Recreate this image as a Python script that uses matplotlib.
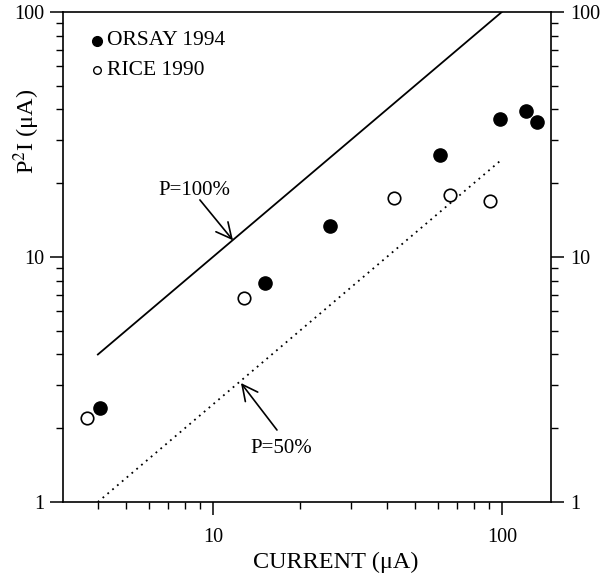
import matplotlib
matplotlib.use("Agg")
import matplotlib.pyplot as plt
import numpy as np

plt.rcParams['font.family'] = ['Liberation Serif', 'DejaVu Serif']
plt.rcParams['mathtext.fontset'] = 'stix'

# Data
orsay_x = [4.06, 15.1, 25.4, 61.0, 98.4, 121.7, 132.5]
orsay_y = [2.43, 7.83, 13.4, 26.1, 36.5, 39.4, 35.6]
rice_x = [3.68, 12.8, 42.3, 66.1, 90.8]
rice_y = [2.2, 6.8, 17.4, 17.9, 16.9]
line_x = [4, 100]
p100_y = [4, 100]
p50_y = [1, 25]
x_ticks = [10, 100]
x_ticklabels = ['10', '100']
y_ticks = [1, 10, 100]
y_ticklabels = ['1', '10', '100']

fig = plt.figure(figsize=(6.07, 5.77), dpi=100)
ax = fig.add_axes([63/607, 1-502/577, (551-63)/607, (502-12)/577])
ax.set_xscale('log')
ax.set_yscale('log')
ax.set_xlim(3.03, 148)
ax.set_ylim(1, 100)

ax.plot(line_x, p100_y, color='black', lw=1.3)
ax.plot(line_x, p50_y, color='black', lw=1.3, ls=(0, (1, 2.5)))
ax.plot(orsay_x, orsay_y, 'o', color='black', ms=9.5, ls='none')
ax.plot(rice_x, rice_y, 'o', mfc='white', mec='black', mew=1.2, ms=9, ls='none')

# legend (manual)
ax.plot([3.97], [76.2], 'o', color='black', ms=7, clip_on=False)
ax.plot([3.97], [57.9], 'o', mfc='white', mec='black', mew=1, ms=5.5, clip_on=False)
ax.text(4.3, 76.2, 'ORSAY 1994', fontsize=15.5, va='center', ha='left')
ax.text(4.3, 57.9, 'RICE 1990', fontsize=15.5, va='center', ha='left')

# annotations
ax.text(8.6, 18.6, 'P=100%', fontsize=15, ha='center', va='center')
ax.annotate('', xy=(11.74, 11.7), xytext=(9.02, 17.1),
            arrowprops=dict(arrowstyle='->', color='black', lw=1.2,
                            shrinkA=0, shrinkB=0, mutation_scale=28))
ax.text(17.3, 1.66, 'P=50%', fontsize=15, ha='center', va='center')
ax.annotate('', xy=(12.51, 3.06), xytext=(16.67, 1.967),
            arrowprops=dict(arrowstyle='->', color='black', lw=1.2,
                            shrinkA=0, shrinkB=0, mutation_scale=28))

ax.set_xticks(x_ticks)
ax.set_xticklabels(x_ticklabels)
ax.set_yticks(y_ticks)
ax.set_yticklabels(y_ticklabels)
ax.xaxis.set_minor_locator(matplotlib.ticker.LogLocator(base=10, subs=np.arange(2, 10)))
ax.yaxis.set_minor_locator(matplotlib.ticker.LogLocator(base=10, subs=np.arange(2, 10)))
ax.xaxis.set_minor_formatter(matplotlib.ticker.NullFormatter())
ax.yaxis.set_minor_formatter(matplotlib.ticker.NullFormatter())

ax.tick_params(axis='x', which='both', direction='out', top=False, bottom=True, labelsize=14.5, pad=9.5)
ax.tick_params(axis='y', which='both', direction='out', left=True, right=True,
               labelleft=True, labelright=True, labelsize=14.5, pad=4)
ax.tick_params(which='major', length=9.5, width=1.1)
ax.tick_params(which='minor', length=5, width=1.0)
for s in ax.spines.values():
    s.set_linewidth(1.2)

fig.text(336/607, 1-562/577, 'CURRENT (μA)', fontsize=17.5, ha='center', va='center')
fig.text(27/607, 1-131/577, 'P$^2$I (μA)', rotation=90, fontsize=17.5, ha='center', va='center')

fig.savefig('out.png', dpi=100)
